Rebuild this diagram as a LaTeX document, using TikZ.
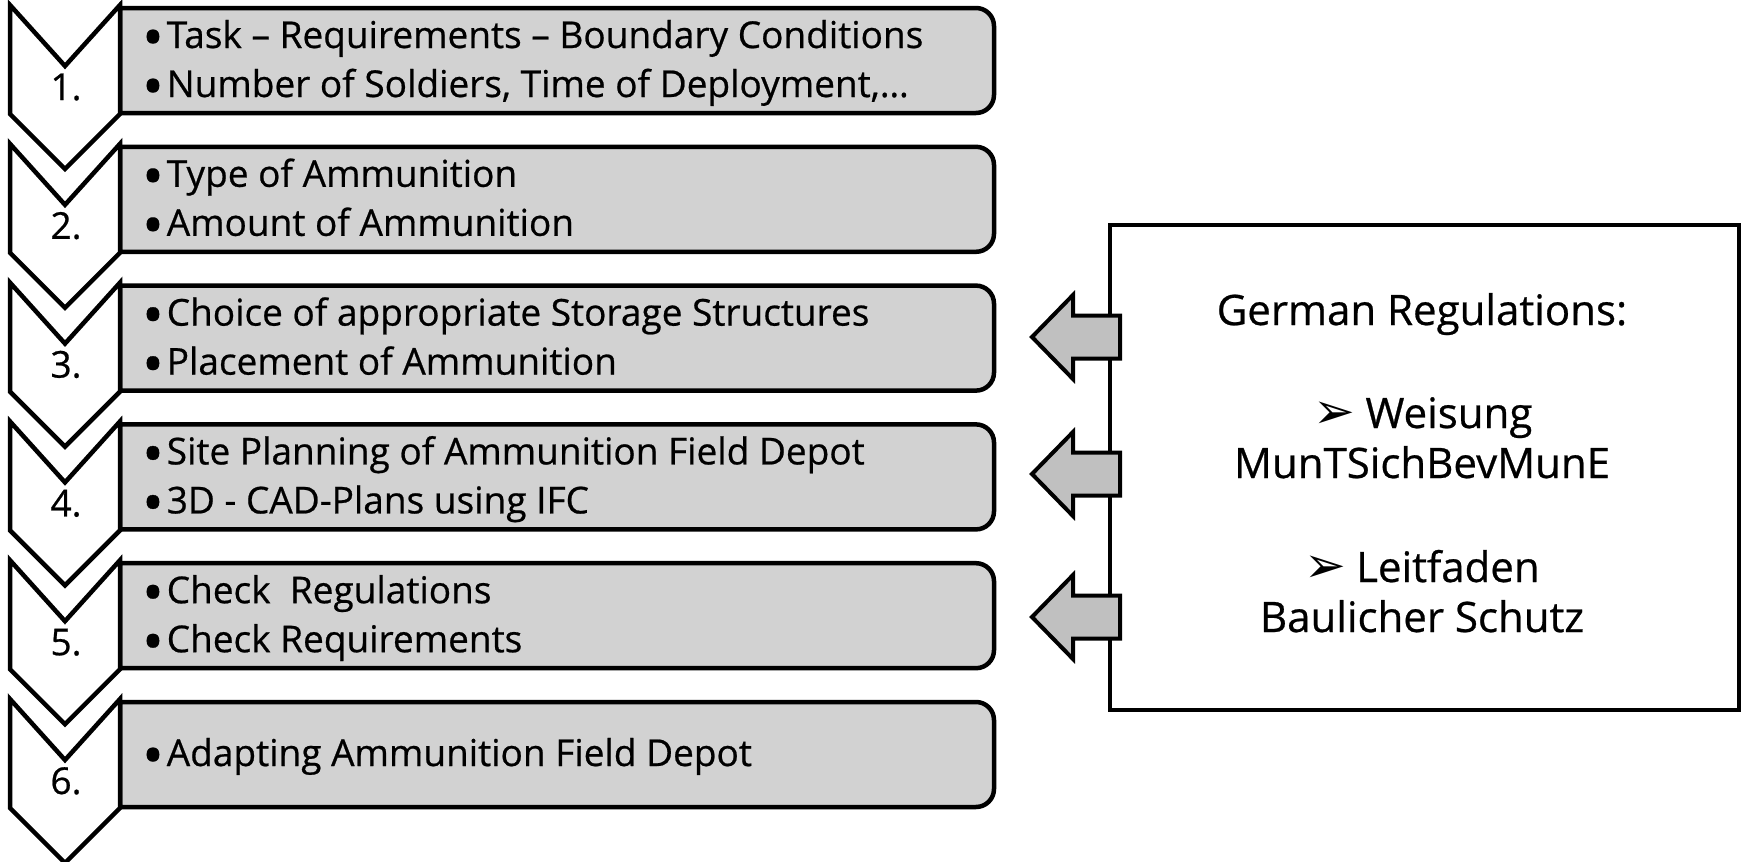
\documentclass[tikz,border=0pt]{standalone}
\usepackage{fontspec}
\usepackage{graphicx}
\setmainfont{Open Sans}[FakeBold=0.6]
\newfontfamily\txtfont{Open Sans}[FakeBold=0.6]
\newfontfamily\dingfont{DejaVu Sans}
\definecolor{boxgray}{RGB}{210,210,210}
\definecolor{arrowgray}{RGB}{192,192,192}
\newcommand{\bul}{\smash{\raisebox{-9.5pt}{\scalebox{1.55}{\textbullet}}}\hskip3pt}
\newcommand{\darr}{{\dingfont\fontsize{50}{50}\selectfont ➢}\hskip10pt}
\tikzset{
  chev/.style={draw=black, fill=white, line width=4.5pt, line join=miter},
  stepbox/.style={draw=black, fill=boxgray, line width=4.5pt, line join=miter},
  lbl/.style={inner sep=0pt, anchor=base west, text height=27pt, text depth=8pt, font=\txtfont\fontsize{37}{44}\selectfont},
  numst/.style={inner sep=0pt, anchor=base, font=\txtfont\fontsize{37}{44}\selectfont},
  regbox/.style={draw=black, fill=white, line width=4pt, inner sep=0pt},
  regtxt/.style={inner sep=0pt, anchor=base, text height=31pt, text depth=9pt, font=\txtfont\fontsize{42}{50}\selectfont},
  blockarrow/.style={draw=black, fill=arrowgray, line width=4pt, line join=miter}
}
\begin{document}
\begin{tikzpicture}[x=1pt,y=1pt]
\useasboundingbox (0,0) rectangle (1741,-862);
% steps with two lines
\foreach \i/\la/\lb in {
  1/{Task – Requirements – Boundary Conditions}/{Number of Soldiers, Time of Deployment,…},
  2/{Type of Ammunition}/{Amount of Ammunition},
  3/{Choice of appropriate Storage Structures}/{Placement of Ammunition},
  4/{Site Planning of Ammunition Field Depot}/{3D - CAD-Plans using IFC},
  5/{Check\ \ Regulations}/{Check Requirements}}{
  \pgfmathsetmacro\T{-(5+138.8*(\i-1))}
  \draw[stepbox] (120,\T-3) -- (976,\T-3) arc[start angle=90,end angle=0,radius=18]
     -- (994,\T-90) arc[start angle=0,end angle=-90,radius=18] -- (120,\T-108) -- cycle;
  \draw[chev] (10,\T) -- (65,\T-61) -- (120,\T) -- (120,\T-109) -- (65,\T-164) -- (10,\T-109) -- cycle;
  \node[lbl] (ta\i) at (142,\T-43) {\bul\la};
  \node[lbl] (tb\i) at (142,\T-92) {\bul\lb};
  \node[numst] (n\i) at (66,\T-95) {\i.};
}
% step 6
\pgfmathsetmacro\T{-(5+138.8*5)}
\draw[stepbox] (120,\T-3) -- (976,\T-3) arc[start angle=90,end angle=0,radius=18]
   -- (994,\T-90) arc[start angle=0,end angle=-90,radius=18] -- (120,\T-108) -- cycle;
\draw[chev] (10,\T) -- (65,\T-61) -- (120,\T) -- (120,\T-109) -- (65,\T-164) -- (10,\T-109) -- cycle;
\node[lbl] (ta6) at (142,\T-67) {\bul Adapting Ammunition Field Depot};
\node[numst] (n6) at (66,\T-95) {6.};
% regulations box
\node[regbox, minimum width=629pt, minimum height=485pt, anchor=north west] (reg) at (1108,-223) {};
\node[regtxt] (r1) at (1422,-325) {German Regulations:};
\node[regtxt] (r2) at (1423,-428) {\darr Weisung};
\node[regtxt] (r3) at (1422,-478) {MunTSichBevMunE};
\node[regtxt] (r4) at (1422,-582) {\darr Leitfaden};
\node[regtxt] (r5) at (1422,-632) {Baulicher Schutz};
% block arrows
\foreach \k/\y in {1/-337,2/-474,3/-617}{
  \coordinate (ar\k) at (1032,\y);
  \draw[blockarrow] (ar\k) -- ++(41,42) -- ++(0,-20.5) -- ++(47,0) -- ++(0,-43) -- ++(-47,0) -- ++(0,-20.5) -- cycle;
}
\end{tikzpicture}
\end{document}
